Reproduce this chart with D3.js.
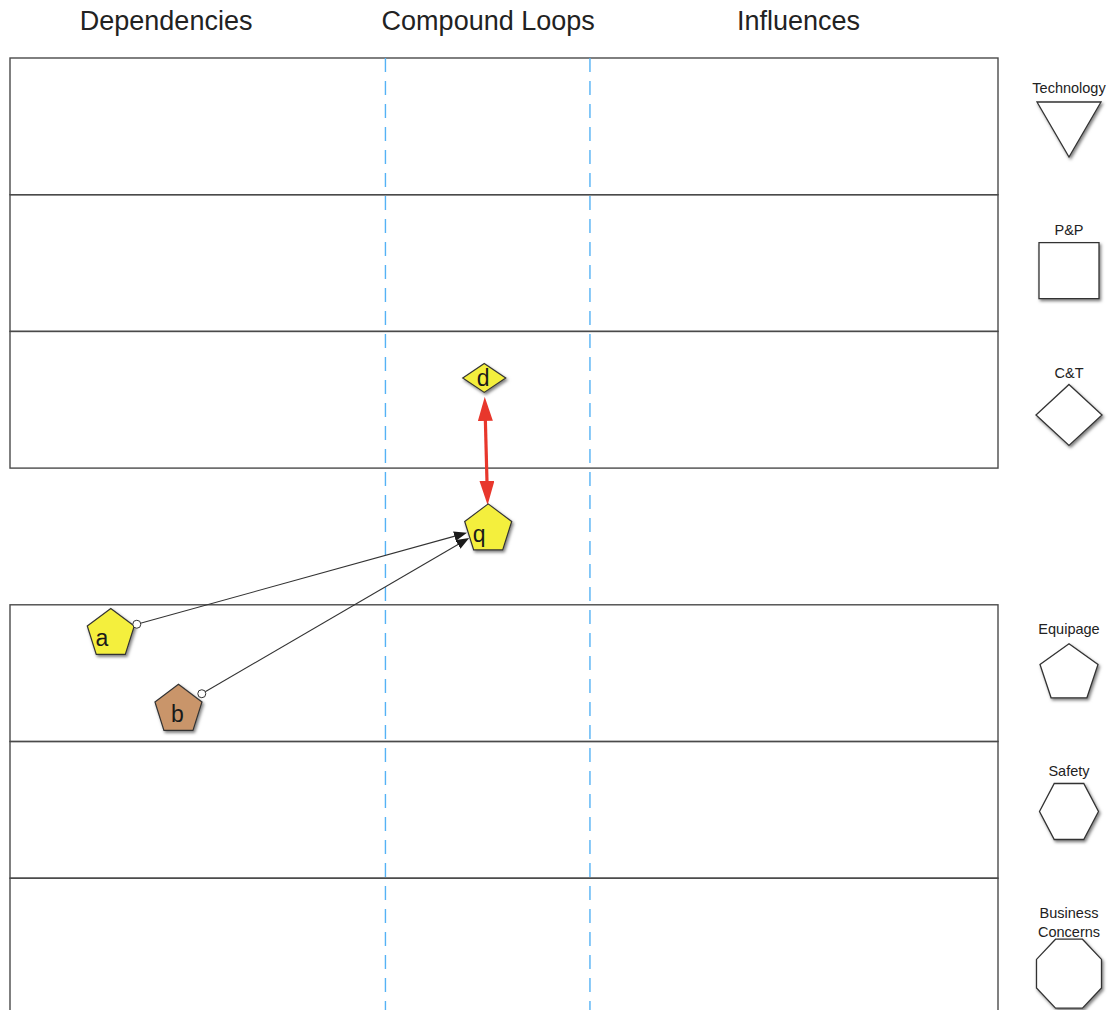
<!DOCTYPE html>
<html><head><meta charset="utf-8">
<script src="https://cdn.jsdelivr.net/npm/d3@7"></script>
<style>body{margin:0;background:#fff}svg{display:block}text{font-family:"Liberation Sans",Arial,Helvetica,sans-serif}</style>
</head><body><svg id="c" width="1116" height="1010"></svg>
<script>
// ---------- DATA ----------
const slots = ["Technology", "P&P", "C&T", "", "Equipage", "Safety", "Business Concerns"];
const laneSlots = [0, 1, 2, 4, 5, 6];
const columns = ["Dependencies", "Compound Loops", "Influences"];
const columnCenters = [15.8, 48.4, 79.8];
const columnDividers = [38.0, 58.7];
const legendLabels = [["Technology"], ["P&P"], ["C&T"], ["Equipage"], ["Safety"], ["Business", "Concerns"]];
const legendTypes = ["triangle", "square", "diamond", "pentagon", "hexagon", "octagon"];
const legendSlots = [0, 1, 2, 4, 5, 6];
const nodeIds = ["d", "q", "a", "b"];
const nodeTypes = ["diamond", "pentagon", "pentagon", "pentagon"];
const nodeX = [48.0, 48.4, 10.2, 17.05];
const nodeY = [2.34, 3.43, 4.195, 4.75];
const nodeColors = ["yellow", "yellow", "yellow", "tan"];
const linkSources = ["d", "a", "b"];
const linkTargets = ["q", "q", "q"];
const linkKinds = ["mutual", "dependency", "dependency"];

// ---------- LAYOUT / STYLE ----------
const W = 1116, H = 1010;
const svg = d3.select("#c");
const x = d3.scaleLinear().domain([0, 100]).range([10, 998]);
const y = d3.scaleLinear().domain([0, 7]).range([58, 58 + 7 * 136.7]);
const slotH = y(1) - y(0);
const colorMap = {yellow: "#f4ef3e", tan: "#c9956a"};
const legendCx = 1069;
// legend: label baseline offset, shape box (top offset, w, h) relative to slot top
const legendLayout = [
  {lab: 35, top: 44, w: 64, h: 55},
  {lab: 40, top: 48, w: 60, h: 56},
  {lab: 47, top: 53, w: 66, h: 61},
  {lab: 29, top: 39, w: 58, h: 54},
  {lab: 34, top: 42, w: 59, h: 56},
  {lab: 40, top: 61, w: 65, h: 69}
];
const nodeSize = {diamond: [43, 29], pentagon: [47, 46]};

const defs = svg.append("defs");
const f = defs.append("filter").attr("id", "sh").attr("x", "-30%").attr("y", "-30%").attr("width", "170%").attr("height", "170%");
f.append("feDropShadow").attr("dx", 1.5).attr("dy", 2).attr("stdDeviation", 1.4).attr("flood-color", "#000").attr("flood-opacity", 0.5);

defs.append("marker").attr("id", "redArrow").attr("viewBox", "0 0 24 15")
  .attr("markerUnits", "userSpaceOnUse").attr("markerWidth", 24).attr("markerHeight", 15)
  .attr("refX", 14).attr("refY", 7.5).attr("orient", "auto-start-reverse")
  .append("path").attr("d", "M0,0 L24,7.5 L0,15 Z").attr("fill", "#e8372c");
defs.append("marker").attr("id", "blkArrow").attr("viewBox", "0 0 13 10")
  .attr("markerUnits", "userSpaceOnUse").attr("markerWidth", 13).attr("markerHeight", 10)
  .attr("refX", 7).attr("refY", 5).attr("orient", "auto")
  .append("path").attr("d", "M0,0 L13,5 L0,10 Z").attr("fill", "#1a1a1a");

function shapePoints(type, cx, cy, w, h) {
  let pts;
  if (type === "triangle") pts = [[-1, -1], [1, -1], [0, 1]];
  else if (type === "square") pts = [[-1, -1], [1, -1], [1, 1], [-1, 1]];
  else if (type === "diamond") pts = [[0, -1], [1, 0], [0, 1], [-1, 0]];
  else {
    const n = {pentagon: 5, hexagon: 6, octagon: 8}[type];
    const rot = {pentagon: -90, hexagon: 0, octagon: 22.5}[type] * Math.PI / 180;
    pts = d3.range(n).map(k => [Math.cos(rot + 2 * Math.PI * k / n), Math.sin(rot + 2 * Math.PI * k / n)]);
  }
  const xe = d3.extent(pts, p => p[0]), ye = d3.extent(pts, p => p[1]);
  return pts.map(p => [cx + ((p[0] - xe[0]) / (xe[1] - xe[0]) - 0.5) * w,
                       cy + ((p[1] - ye[0]) / (ye[1] - ye[0]) - 0.5) * h]);
}
const lineGen = d3.line().curve(d3.curveLinearClosed);

// lanes
svg.append("g").selectAll("rect").data(laneSlots).join("rect")
  .attr("x", x(0)).attr("y", d => y(d)).attr("width", x(100) - x(0)).attr("height", slotH)
  .attr("fill", "none").attr("stroke", "#4a4a4a").attr("stroke-width", 1.4);

// column dividers
svg.append("g").selectAll("line").data(columnDividers).join("line")
  .attr("x1", d => x(d)).attr("x2", d => x(d)).attr("y1", y(0)).attr("y2", H)
  .attr("stroke", "#55b2f5").attr("stroke-width", 1.4).attr("stroke-dasharray", "14,9");

// headers
svg.append("g").selectAll("text").data(columns).join("text")
  .attr("x", (d, i) => x(columnCenters[i])).attr("y", 30)
  .attr("text-anchor", "middle").attr("font-size", 27).attr("fill", "#222").text(d => d);

// legend
const lg = svg.append("g");
legendTypes.forEach((t, i) => {
  const top = y(legendSlots[i]);
  const L = legendLayout[i];
  lg.append("path").attr("d", lineGen(shapePoints(t, legendCx, top + L.top + L.h / 2, L.w, L.h)))
    .attr("fill", "#fff").attr("stroke", "#333").attr("stroke-width", 1.3).attr("filter", "url(#sh)");
  const t0 = lg.append("text").attr("text-anchor", "middle").attr("font-size", 14.5).attr("fill", "#222");
  legendLabels[i].forEach((s, j) => {
    t0.append("tspan").attr("x", legendCx).attr("y", top + L.lab + j * 19).text(s);
  });
});

// node lookup
const nodes = nodeIds.map((id, i) => ({id, type: nodeTypes[i], cx: x(nodeX[i]), cy: y(nodeY[i]), color: colorMap[nodeColors[i]]}));
const byId = Object.fromEntries(nodes.map(n => [n.id, n]));
const radius = n => n.type === "diamond" ? 19 : 23;

// links
const links = linkSources.map((s, i) => ({s: byId[s], t: byId[linkTargets[i]], kind: linkKinds[i]}));
const lk = svg.append("g");
links.forEach(l => {
  const dx = l.t.cx - l.s.cx, dy = l.t.cy - l.s.cy, len = Math.hypot(dx, dy);
  const ux = dx / len, uy = dy / len;
  if (l.kind === "mutual") {
    const rs = radius(l.s), rt = radius(l.t) - 1;
    lk.append("line")
      .attr("x1", l.s.cx + ux * (rs + 10)).attr("y1", l.s.cy + uy * (rs + 10))
      .attr("x2", l.t.cx - ux * (rt + 10)).attr("y2", l.t.cy - uy * (rt + 10))
      .attr("stroke", "#e8372c").attr("stroke-width", 3.2)
      .attr("marker-start", "url(#redArrow)").attr("marker-end", "url(#redArrow)");
  } else {
    const rs = radius(l.s) + 4, rt = radius(l.t) - 1;
    const sx = l.s.cx + ux * rs, sy = l.s.cy + uy * rs;
    lk.append("line")
      .attr("x1", sx).attr("y1", sy)
      .attr("x2", l.t.cx - ux * (rt + 6)).attr("y2", l.t.cy - uy * (rt + 6))
      .attr("stroke", "#333").attr("stroke-width", 1.1).attr("marker-end", "url(#blkArrow)");
    l.circle = [sx, sy];
  }
});

// nodes
const ng = svg.append("g");
nodes.forEach(n => {
  const sz = nodeSize[n.type];
  ng.append("path").attr("d", lineGen(shapePoints(n.type, n.cx, n.cy, sz[0], sz[1])))
    .attr("fill", n.color).attr("stroke", "#333").attr("stroke-width", 1.2).attr("filter", "url(#sh)");
  ng.append("text").attr("x", n.cx - (n.type === "diamond" ? 1 : (n.id === "b" ? 1 : 9))).attr("y", n.cy + (n.type === "diamond" ? 8 : 15))
    .attr("text-anchor", "middle").attr("font-size", 23).attr("fill", "#1a1a1a").text(n.id);
});
// source circles on top
links.filter(l => l.circle).forEach(l => {
  ng.append("circle").attr("cx", l.circle[0]).attr("cy", l.circle[1]).attr("r", 4)
    .attr("fill", "#fff").attr("stroke", "#333").attr("stroke-width", 1);
});
</script></body></html>
